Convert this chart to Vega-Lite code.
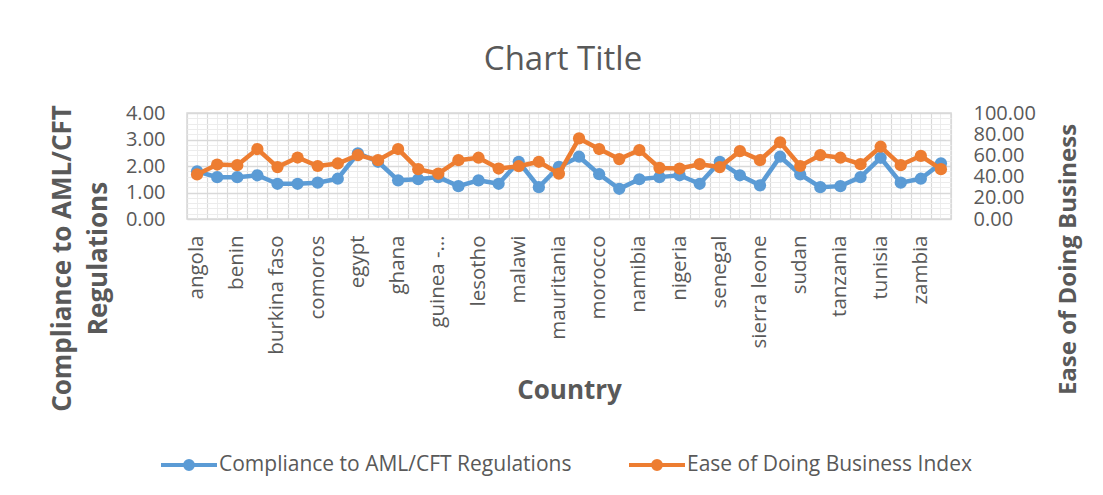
{
  "$schema": "https://vega.github.io/schema/vega-lite/v6.json",
  "width": 764,
  "height": 106,
  "autosize": {"type": "none"},
  "padding": {"left": 187, "top": 113, "right": 152, "bottom": 276},
  "background": "white",
  "title": {"text": "Chart Title", "frame": "group", "anchor": "middle", "fontSize": 33, "font": "Open Sans", "fontWeight": "normal", "color": "#595959", "dx": -6, "offset": 0, "baseline": "alphabetic"},
  "config": {"view": {"stroke": "#d9d9d9", "strokeWidth": 1.5}, "font": "Open Sans"},
  "data": {"values": [
    {"country": "angola", "aml": 1.80, "edb": 42.0},
    {"country": "algeria", "aml": 1.58, "edb": 51.4},
    {"country": "benin", "aml": 1.58, "edb": 50.8},
    {"country": "botswana", "aml": 1.65, "edb": 66.0},
    {"country": "burkina faso", "aml": 1.33, "edb": 49.0},
    {"country": "burundi", "aml": 1.33, "edb": 58.0},
    {"country": "comoros", "aml": 1.37, "edb": 50.0},
    {"country": "cote d'ivoire", "aml": 1.52, "edb": 52.4},
    {"country": "egypt", "aml": 2.48, "edb": 60.3},
    {"country": "ethiopia", "aml": 2.16, "edb": 55.5},
    {"country": "ghana", "aml": 1.46, "edb": 66.0},
    {"country": "guinea", "aml": 1.50, "edb": 47.0},
    {"country": "guinea - bissau", "aml": 1.58, "edb": 42.8},
    {"country": "kenya", "aml": 1.24, "edb": 55.5},
    {"country": "lesotho", "aml": 1.46, "edb": 57.8},
    {"country": "liberia", "aml": 1.33, "edb": 47.6},
    {"country": "malawi", "aml": 2.16, "edb": 49.8},
    {"country": "mali", "aml": 1.20, "edb": 54.0},
    {"country": "mauritania", "aml": 1.97, "edb": 42.8},
    {"country": "mauritius", "aml": 2.35, "edb": 76.0},
    {"country": "morocco", "aml": 1.69, "edb": 66.0},
    {"country": "mozambique", "aml": 1.14, "edb": 56.5},
    {"country": "namibia", "aml": 1.50, "edb": 65.0},
    {"country": "niger", "aml": 1.58, "edb": 48.2},
    {"country": "nigeria", "aml": 1.65, "edb": 47.6},
    {"country": "rwanda", "aml": 1.33, "edb": 51.7},
    {"country": "senegal", "aml": 2.16, "edb": 49.0},
    {"country": "seychelles", "aml": 1.65, "edb": 64.0},
    {"country": "sierra leone", "aml": 1.27, "edb": 55.5},
    {"country": "south africa", "aml": 2.35, "edb": 72.4},
    {"country": "sudan", "aml": 1.68, "edb": 50.0},
    {"country": "swaziland", "aml": 1.20, "edb": 60.3},
    {"country": "tanzania", "aml": 1.24, "edb": 57.8},
    {"country": "togo", "aml": 1.58, "edb": 51.7},
    {"country": "tunisia", "aml": 2.31, "edb": 68.2},
    {"country": "uganda", "aml": 1.37, "edb": 50.8},
    {"country": "zambia", "aml": 1.52, "edb": 59.6},
    {"country": "zimbabwe", "aml": 2.10, "edb": 47.0}
  ]},
  "layer": [
    {
      "mark": {"type": "point", "opacity": 0},
      "encoding": {
        "x": {"field": "country", "type": "nominal", "sort": null,
          "scale": {"type": "band", "paddingInner": 0, "paddingOuter": 0},
          "axis": {"orient": "bottom", "tickBand": "extent", "grid": true, "gridColor": "#d9d9d9", "gridWidth": 1.2, "labels": false, "ticks": false, "domain": false, "title": null}},
        "y": {"field": "aml", "type": "quantitative", "scale": {"domain": [0, 4], "nice": false},
          "axis": {"orient": "left", "values": [0.2, 0.4, 0.6, 0.8, 1.2, 1.4, 1.6, 1.8, 2.2, 2.4, 2.6, 2.8, 3.2, 3.4, 3.6, 3.8], "grid": true, "gridColor": "#ececec", "gridWidth": 1, "labels": false, "ticks": false, "domain": false, "title": null}}
      }
    },
    {
      "encoding": {
        "x": {"field": "country", "type": "nominal", "sort": null,
          "scale": {"type": "band", "paddingInner": 0, "paddingOuter": 0},
          "axis": {"orient": "bottom", "grid": true, "gridColor": "#ececec", "gridWidth": 1, "ticks": false, "domain": false,
            "labelAngle": -90, "labelFontSize": 20.5, "labelColor": "#595959", "labelPadding": 16, "labelFont": "Open Sans",
            "labelExpr": "round(datum.index * 37) % 2 == 0 ? (datum.label == 'guinea - bissau' ? 'guinea -…' : datum.label) : ''",
            "title": "Country", "titleFontSize": 26, "titleFontWeight": "bold", "titleColor": "#595959", "titleFont": "Open Sans", "titleY": 171, "titleBaseline": "middle"}},
        "y": {"field": "aml", "type": "quantitative", "scale": {"domain": [0, 4], "nice": false},
          "axis": {"orient": "left", "values": [0, 1, 2, 3, 4], "format": ".2f", "grid": true, "gridColor": "#d9d9d9", "gridWidth": 1.5, "ticks": false, "domain": false,
            "labelPadding": 22, "labelFontSize": 20, "labelColor": "#595959", "labelFont": "Open Sans",
            "title": ["Compliance to AML/CFT", "Regulations"], "titleFontSize": 26, "titleFontWeight": "bold", "titleColor": "#595959", "titleFont": "Open Sans",
            "titleAngle": -90, "titleX": -125, "titleY": 145, "titleAlign": "center", "titleBaseline": "middle", "titleLineHeight": 36}},
        "color": {"datum": "Compliance to AML/CFT Regulations", "type": "nominal",
          "scale": {"domain": ["Compliance to AML/CFT Regulations", "Ease of Doing  Business Index"], "range": ["#5B9BD5", "#ED7D31"]},
          "legend": {"orient": "none", "legendX": -28, "legendY": 322, "direction": "horizontal", "title": null, "padding": 0,
            "symbolType": "M-1,0H1M-0.14,0A0.14,0.14,0,1,0,0.14,0A0.14,0.14,0,1,0,-0.14,0", "symbolSize": 3136, "symbolStrokeWidth": 4,
            "labelFontSize": 21, "labelColor": "#595959", "labelFont": "Open Sans", "labelOffset": 0, "labelLimit": 600, "columnPadding": 49,
            "encode": {"symbols": {"update": {"fill": {"scale": "color", "field": "value"}, "stroke": {"scale": "color", "field": "value"}, "opacity": {"value": 1}}}}}}
      },
      "layer": [
        {"mark": {"type": "line", "strokeWidth": 4.5}},
        {"mark": {"type": "point", "filled": true, "size": 150, "opacity": 1}}
      ]
    },
    {
      "encoding": {
        "x": {"field": "country", "type": "nominal", "sort": null,
          "scale": {"type": "band", "paddingInner": 0, "paddingOuter": 0}, "axis": null},
        "y": {"field": "edb", "type": "quantitative", "scale": {"domain": [0, 100], "nice": false},
          "axis": {"orient": "right", "values": [0, 20, 40, 60, 80, 100], "format": ".2f", "grid": false, "ticks": false, "domain": false,
            "labelPadding": 22, "labelFontSize": 20, "labelColor": "#595959", "labelFont": "Open Sans",
            "title": "Ease of Doing Business", "titleFontSize": 24, "titleFontWeight": "bold", "titleColor": "#595959", "titleFont": "Open Sans",
            "titleAngle": -90, "titleX": 117, "titleY": 146, "titleAlign": "center", "titleBaseline": "middle"}},
        "color": {"datum": "Ease of Doing  Business Index", "type": "nominal"}
      },
      "layer": [
        {"mark": {"type": "line", "strokeWidth": 4.5}},
        {"mark": {"type": "point", "filled": true, "size": 150, "opacity": 1}}
      ]
    }
  ],
  "resolve": {"scale": {"y": "independent"}, "axis": {"x": "independent", "y": "independent"}}
}
